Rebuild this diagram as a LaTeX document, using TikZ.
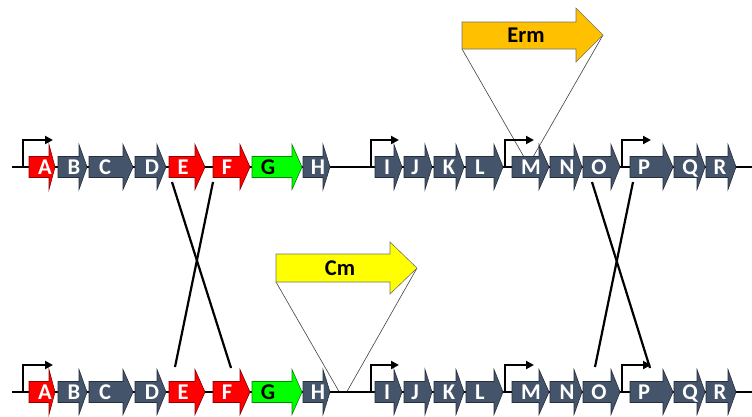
\documentclass[tikz,border=0pt]{standalone}
\usepackage{fontspec}
\setmainfont{Carlito}
\usetikzlibrary{arrows.meta}
\definecolor{slate}{HTML}{44546A}
\definecolor{gred}{HTML}{FF0000}
\definecolor{ggreen}{HTML}{00FF00}
\definecolor{ermc}{HTML}{FFC000}
\definecolor{cmc}{HTML}{FFFF00}
\tikzset{
  backbone/.style={line width=2pt, black},
  genebox/.style={line width=0.6pt, line join=miter},
  lbl/.style={font=\fontsize{22.5}{24}\selectfont\bfseries, anchor=base, inner sep=0pt},
  promoter/.style={line width=2pt, -{Triangle[length=8pt,width=8pt]}},
  cross/.style={line width=2.2pt, black},
  thinline/.style={line width=0.6pt, black!75},
  cassette/.style={line width=0.6pt, draw=black!55, line join=miter}
}
% #1 row, #2 label, #3 left, #4 head start, #5 tip, #6 y centre, #7 fill, #8 text colour, #9 label x
\newcommand\gn[9]{%
  \draw[genebox, fill=#7, draw=#7!55!black] (#3,#6-10.5) -- (#4,#6-10.5) -- (#4,#6-22.5) -- (#5,#6) -- (#4,#6+22.5) -- (#4,#6+10.5) -- (#3,#6+10.5) -- cycle;
  \node[lbl, text=#8] (#1#2) at (#9,#6+7.2) {#2};}
\newcommand\generow[2]{% #1 row, #2 y centre
  \gn{#1}{A}{29}{49}{55}{#2}{gred}{white}{45}
  \gn{#1}{B}{58}{79}{87}{#2}{slate}{white}{74}
  \gn{#1}{C}{89}{123}{133}{#2}{slate}{white}{105}
  \gn{#1}{D}{135}{157}{166}{#2}{slate}{white}{152}
  \gn{#1}{E}{169}{195}{205}{#2}{gred}{white}{183}
  \gn{#1}{F}{213}{240}{250}{#2}{gred}{white}{227}
  \gn{#1}{G}{252}{292}{302}{#2}{ggreen}{black}{268}
  \gn{#1}{H}{303}{323}{330}{#2}{slate}{white}{318}
  \gn{#1}{I}{375}{394}{402}{#2}{slate}{white}{387}
  \gn{#1}{J}{404}{425}{432}{#2}{slate}{white}{415}
  \gn{#1}{K}{434}{456}{464}{#2}{slate}{white}{449}
  \gn{#1}{L}{466}{494}{503}{#2}{slate}{white}{480}
  \gn{#1}{M}{512}{539}{549}{#2}{slate}{white}{531}
  \gn{#1}{N}{550}{574}{582}{#2}{slate}{white}{567}
  \gn{#1}{O}{583}{611}{620}{#2}{slate}{white}{599}
  \gn{#1}{P}{630}{663}{673}{#2}{slate}{white}{644}
  \gn{#1}{Q}{674}{697}{705}{#2}{slate}{white}{690}
  \gn{#1}{R}{706}{728}{736}{#2}{slate}{white}{720}
}
\newcommand\promoters[1]{% #1 y of backbone
  \coordinate (p1#1) at (23,#1); \coordinate (q1#1) at (53,#1-26);
  \coordinate (p2#1) at (371,#1); \coordinate (q2#1) at (399,#1-26);
  \coordinate (p3#1) at (505,#1); \coordinate (q3#1) at (534,#1-26);
  \coordinate (p4#1) at (622,#1); \coordinate (q4#1) at (651,#1-26);
  \draw[promoter] (p1#1) |- (q1#1);
  \draw[promoter] (p2#1) |- (q2#1);
  \draw[promoter] (p3#1) |- (q3#1);
  \draw[promoter] (p4#1) |- (q4#1);
}
\begin{document}
\begin{tikzpicture}[x=1pt,y=-1pt]
\useasboundingbox (0,0) rectangle (752,416);
% backbones
\coordinate (topL) at (12,166.5); \coordinate (topR) at (752,166.5);
\coordinate (botL) at (12,391.5); \coordinate (botR) at (752,391.5);
\draw[backbone] (topL) -- (topR);
\draw[backbone] (botL) -- (botR);
% Erm cassette
\coordinate (ermBL) at (462,49); \coordinate (ermTip) at (603,35);
\coordinate (insM1) at (524,157); \coordinate (insM2) at (533,157);
\draw[thinline] (ermBL) -- (insM1);
\draw[thinline] (ermTip) -- (insM2);
\draw[cassette, fill=ermc] (462,22) -- (576,22) -- (576,8) -- (603,35) -- (576,62) -- (576,49) -- (462,49) -- cycle;
\node[lbl, text=black] (erm) at (526,42.5) {Erm};
% Cm cassette
\coordinate (cmBL) at (276,282); \coordinate (cmTip) at (417,268);
\coordinate (insH1) at (339,391.5); \coordinate (insH2) at (347,391.5);
\draw[thinline] (cmBL) -- (insH1);
\draw[thinline] (cmTip) -- (insH2);
\draw[cassette, fill=cmc] (276,254) -- (390,254) -- (390,242) -- (417,268) -- (390,294) -- (390,282) -- (276,282) -- cycle;
\node[lbl, text=black] (cm) at (340,275.5) {Cm};
% genes
\generow{t}{167}
\generow{b}{392}
% promoters
\promoters{166}
\promoters{391}
% crossovers
\coordinate (x1a) at (172,182); \coordinate (x1b) at (231,368);
\coordinate (x2a) at (213,182); \coordinate (x2b) at (175,367);
\coordinate (x3a) at (592,182); \coordinate (x3b) at (650,368);
\coordinate (x4a) at (633,182); \coordinate (x4b) at (595,367);
\draw[cross] (x1a) -- (x1b);
\draw[cross] (x2a) -- (x2b);
\draw[cross] (x3a) -- (x3b);
\draw[cross] (x4a) -- (x4b);
\end{tikzpicture}
\end{document}
